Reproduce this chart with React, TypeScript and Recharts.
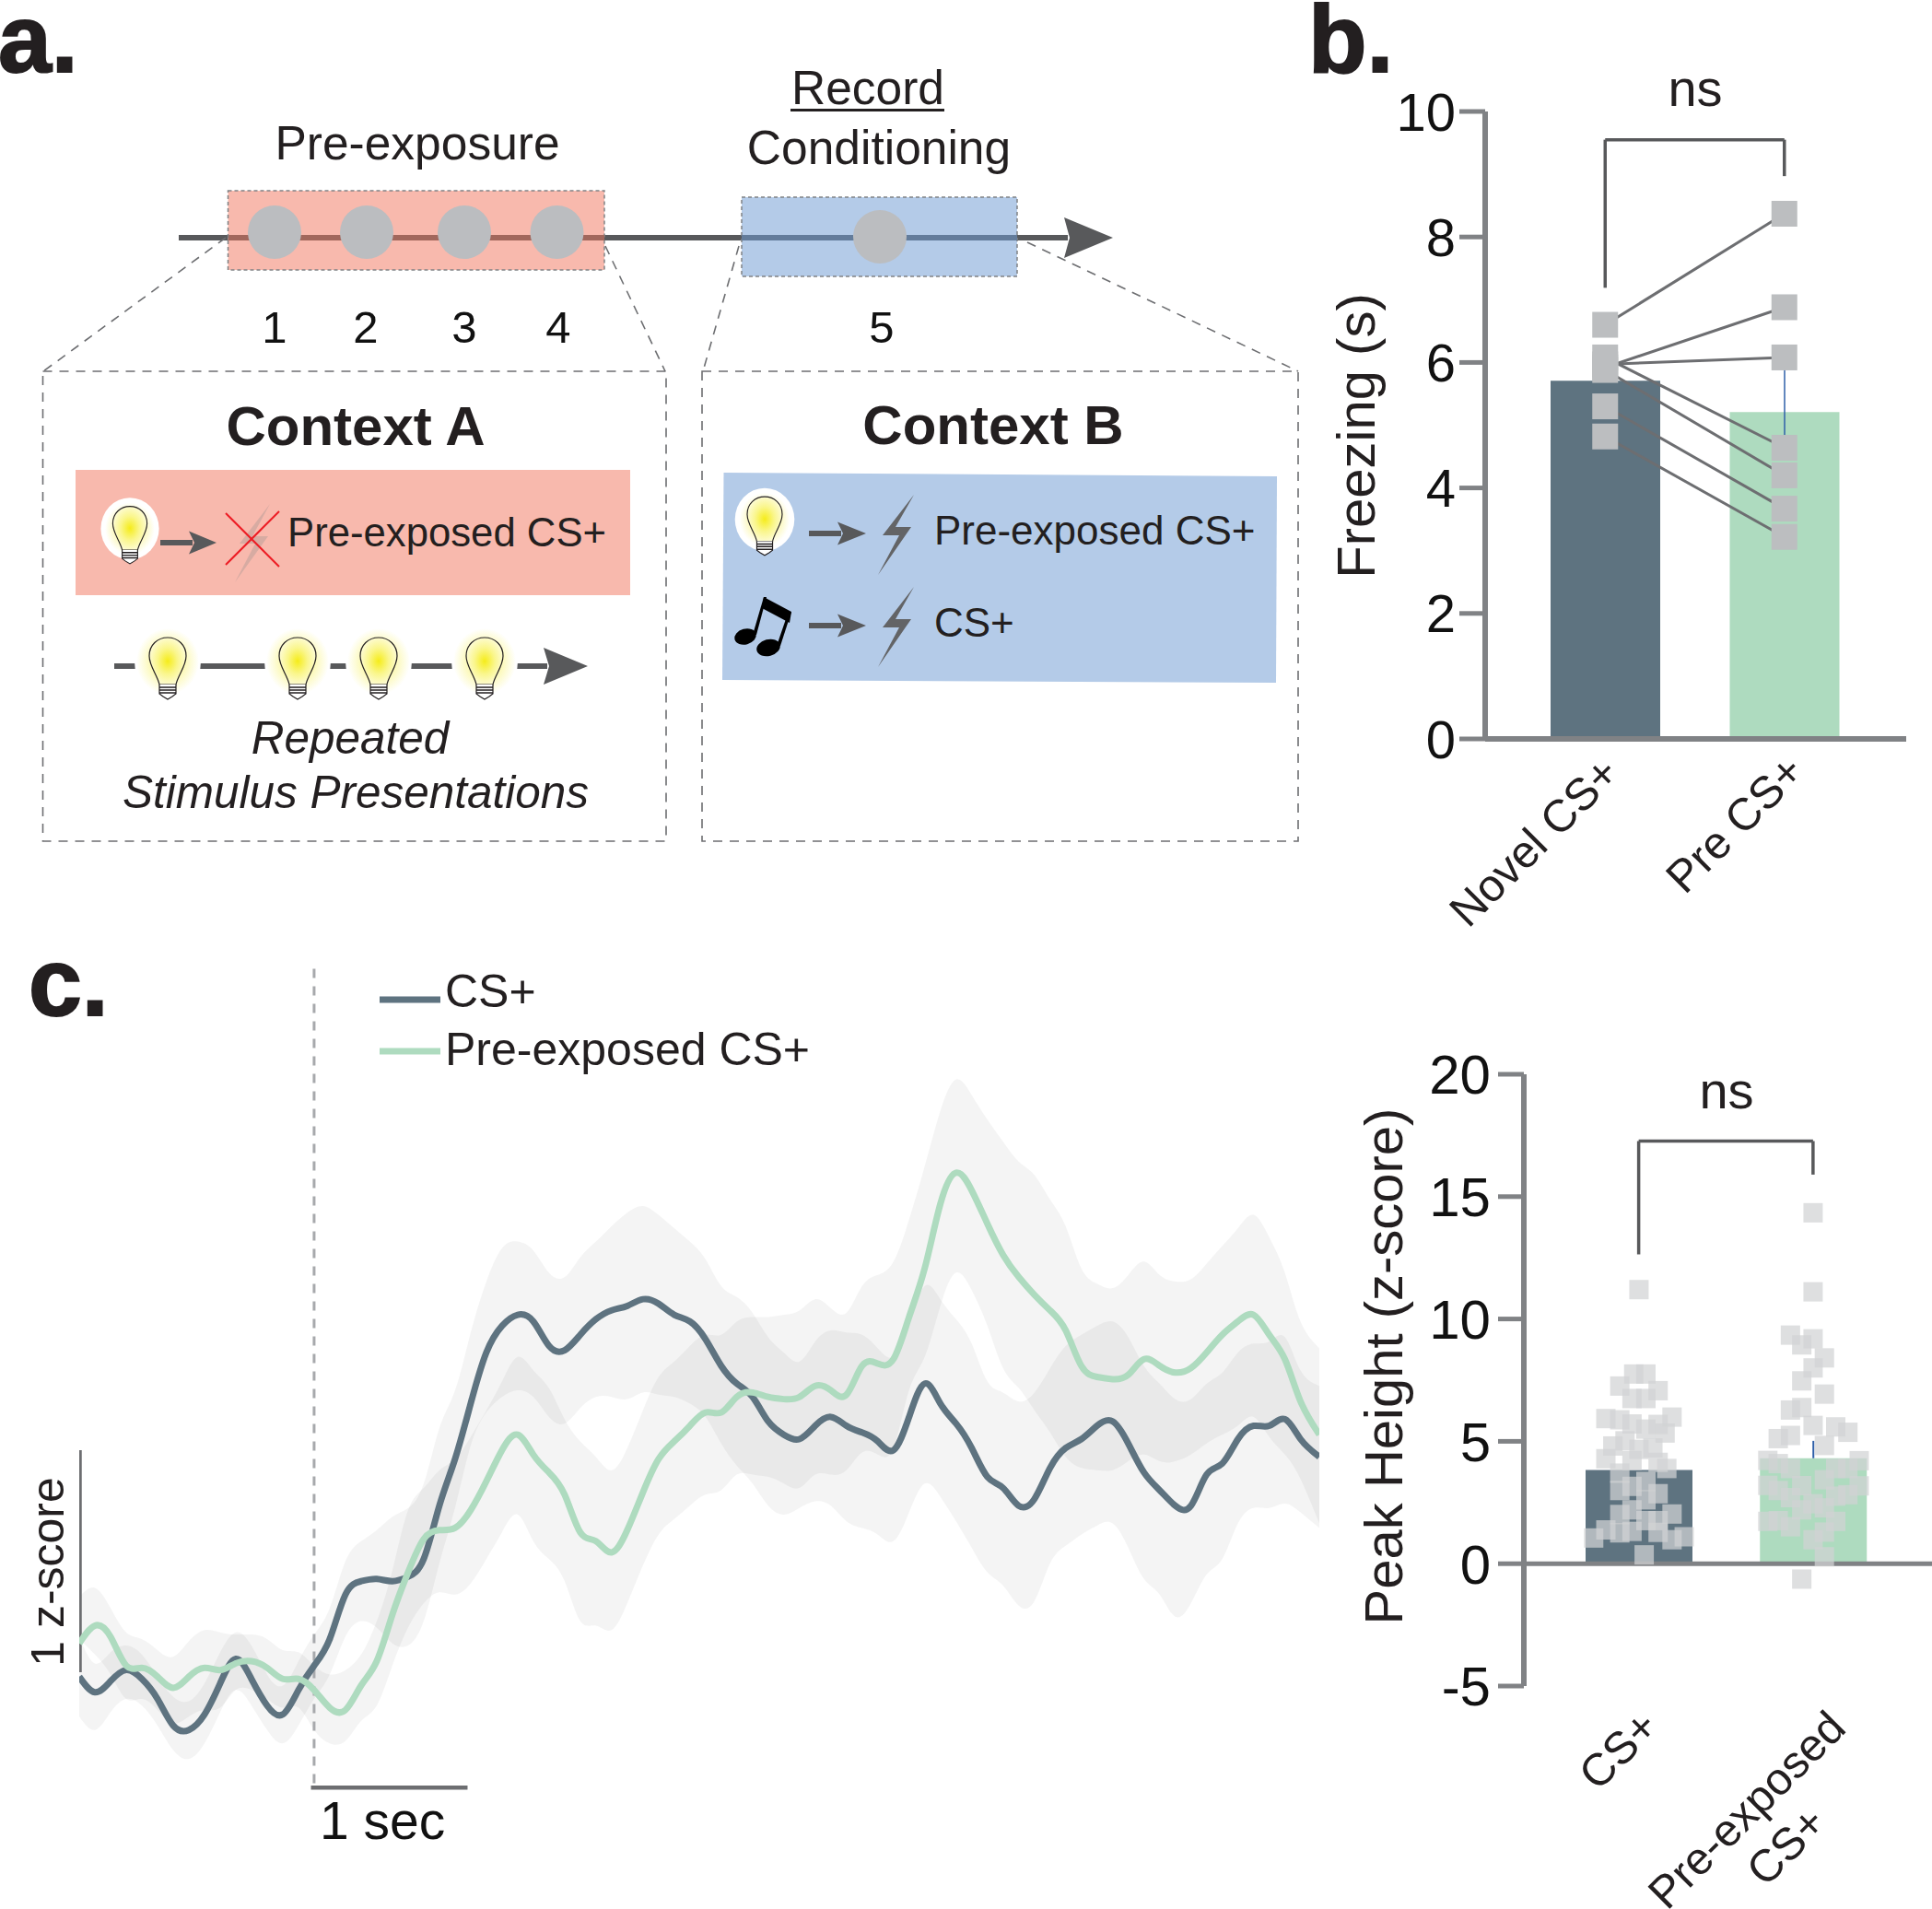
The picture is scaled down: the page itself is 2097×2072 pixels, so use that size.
import {
  Area,
  Bar,
  ComposedChart,
  ErrorBar,
  Line,
  ReferenceLine,
  Scatter,
  XAxis,
  YAxis,
  Cell,
} from "recharts";

const SLATE = "#5e7380";
const MINT = "#aedbbf";
const AXIS = "#808285";
const BRACKET = "#58595b";
const INK = "#231f20";
const SQUARE = "#bcbec0";
const PINK = "#f8b9ad";
const BLUE = "#b4cbe8";

// panel b
const freezeCats = ["Novel CS+", "Pre CS+"];
const freezeMeans = [5.71, 5.21];
const freezeErrors = [0, 0.67];
const freezeNovel = [6.6, 5.92, 5.97, 6.08, 5.88, 5.3, 4.82];
const freezePre = [8.37, 6.88, 6.08, 4.64, 4.2, 3.67, 3.22];
const freezeTicks = [0, 2, 4, 6, 8, 10];

// panel c, traces
const timeSec = [
  -1.5, -1.4, -1.3, -1.2, -1.1, -1.0, -0.9, -0.8, -0.7, -0.6, -0.5, -0.4, -0.3, -0.2, -0.1, 0,
  0.1, 0.2, 0.3, 0.4, 0.5, 0.6, 0.7, 0.8, 0.9, 1.0, 1.1, 1.2, 1.3, 1.4, 1.5, 1.6, 1.7, 1.8, 1.9,
  2.0, 2.1, 2.2, 2.3, 2.4, 2.5, 2.6, 2.7, 2.8, 2.9, 3.0, 3.1, 3.2, 3.3, 3.4, 3.5, 3.6, 3.7, 3.8,
  3.9, 4.0, 4.1, 4.2, 4.3, 4.4, 4.5, 4.6, 4.7, 4.8, 4.9, 5.0, 5.1, 5.2, 5.3, 5.4, 5.5, 5.6, 5.7,
  5.8, 5.9, 6.0, 6.1, 6.2, 6.3, 6.42,
];
const csMean = [
  0.03, -0.04, 0.01, 0.06, 0.02, -0.07, -0.19, -0.21, -0.14, 0, 0.11, 0.02, -0.1, -0.14, -0.03,
  0.08, 0.2, 0.4, 0.46, 0.47, 0.46, 0.48, 0.56, 0.8, 1.01, 1.26, 1.49, 1.61, 1.66, 1.63, 1.52,
  1.5, 1.57, 1.64, 1.68, 1.7, 1.73, 1.71, 1.66, 1.63, 1.55, 1.43, 1.35, 1.29, 1.18, 1.12, 1.1,
  1.16, 1.2, 1.16, 1.13, 1.09, 1.05, 1.2, 1.35, 1.26, 1.17, 1.06, 0.93, 0.88, 0.8, 0.83, 0.97,
  1.06, 1.1, 1.16, 1.18, 1.08, 0.95, 0.87, 0.8, 0.8, 0.94, 0.99, 1.1, 1.16, 1.16, 1.19, 1.1,
  1.02,
];
const csUpper = [
  0.21, 0.09, 0.14, 0.17, 0.13, 0.03, -0.06, -0.08, 0, 0.14, 0.23, 0.17, 0.04, -0.01, 0.1, 0.22,
  0.34, 0.55, 0.64, 0.69, 0.75, 0.79, 0.9, 1.15, 1.32, 1.58, 1.81, 1.96, 1.99, 1.95, 1.85, 1.83,
  1.92, 1.99, 2.06, 2.12, 2.15, 2.11, 2.05, 1.99, 1.91, 1.79, 1.74, 1.67, 1.56, 1.49, 1.45, 1.54,
  1.59, 1.58, 1.57, 1.51, 1.47, 1.61, 1.79, 1.73, 1.64, 1.53, 1.36, 1.31, 1.27, 1.31, 1.42, 1.52,
  1.57, 1.61, 1.63, 1.56, 1.43, 1.35, 1.28, 1.28, 1.35, 1.4, 1.49, 1.53, 1.54, 1.56, 1.41,
  1.34,
];
const csLower = [
  -0.15, -0.21, -0.13, -0.07, -0.1, -0.19, -0.3, -0.34, -0.27, -0.13, -0.03, -0.1, -0.21, -0.27,
  -0.19, -0.07, 0.04, 0.21, 0.28, 0.25, 0.18, 0.17, 0.28, 0.54, 0.79, 1.07, 1.22, 1.29, 1.32,
  1.29, 1.2, 1.17, 1.24, 1.29, 1.29, 1.28, 1.31, 1.3, 1.29, 1.26, 1.2, 1.08, 0.98, 0.9, 0.8, 0.76,
  0.79, 0.82, 0.8, 0.73, 0.7, 0.67, 0.64, 0.77, 0.9, 0.84, 0.73, 0.61, 0.5, 0.44, 0.35, 0.37,
  0.54, 0.62, 0.67, 0.71, 0.72, 0.61, 0.47, 0.4, 0.3, 0.36, 0.49, 0.56, 0.72, 0.79, 0.79, 0.81,
  0.77, 0.7,
];
const preMean = [
  0.18, 0.26, 0.21, 0.08, 0.07, 0.03, -0.02, 0.03, 0.07, 0.06, 0.09, 0.1, 0.07, 0.02, 0.02, -0.03,
  -0.11, -0.12, -0.01, 0.1, 0.31, 0.5, 0.65, 0.69, 0.7, 0.78, 0.91, 1.05, 1.12, 1.03, 0.95, 0.85,
  0.68, 0.64, 0.59, 0.69, 0.86, 1.01, 1.09, 1.16, 1.22, 1.22, 1.29, 1.31, 1.29, 1.28, 1.29, 1.34,
  1.32, 1.3, 1.43, 1.44, 1.46, 1.65, 1.87, 2.16, 2.3, 2.22, 2.07, 1.93, 1.83, 1.75, 1.68, 1.59,
  1.43, 1.38, 1.37, 1.39, 1.46, 1.43, 1.4, 1.42, 1.49, 1.57, 1.63, 1.66, 1.57, 1.46, 1.27,
  1.12,
];
const preUpper = [
  0.39, 0.43, 0.34, 0.23, 0.2, 0.15, 0.12, 0.19, 0.24, 0.23, 0.22, 0.22, 0.2, 0.15, 0.14, 0.08,
  0.04, 0.06, 0.13, 0.28, 0.51, 0.78, 0.88, 0.96, 1.01, 1.11, 1.23, 1.36, 1.47, 1.41, 1.33, 1.19,
  1.09, 1.02, 0.96, 1.06, 1.23, 1.38, 1.45, 1.52, 1.57, 1.57, 1.63, 1.65, 1.65, 1.66, 1.68, 1.73,
  1.69, 1.67, 1.79, 1.84, 1.9, 2.09, 2.33, 2.58, 2.72, 2.65, 2.54, 2.44, 2.35, 2.29, 2.18, 2.06,
  1.87, 1.8, 1.78, 1.84, 1.9, 1.84, 1.81, 1.82, 1.89, 1.97, 2.05, 2.11, 2.01, 1.85, 1.63,
  1.51,
];
const preLower = [
  0.2, 0.13, 0.04, -0.07, -0.07, -0.12, -0.18, -0.15, -0.12, -0.11, -0.03, -0.03, -0.07, -0.11,
  -0.11, -0.21, -0.27, -0.26, -0.17, -0.1, 0.08, 0.25, 0.36, 0.41, 0.4, 0.45, 0.56, 0.68, 0.76,
  0.64, 0.56, 0.46, 0.28, 0.26, 0.24, 0.36, 0.53, 0.67, 0.74, 0.8, 0.85, 0.87, 0.94, 0.94, 0.93,
  0.9, 0.88, 0.94, 0.94, 0.96, 1.04, 1.03, 1.06, 1.32, 1.47, 1.7, 1.85, 1.77, 1.61, 1.42, 1.33,
  1.23, 1.13, 1.02, 0.97, 0.96, 0.96, 1.0, 1.03, 1.0, 1.0, 1.03, 1.08, 1.12, 1.16, 1.2, 1.11, 1.03,
  0.92, 0.72,
];

// panel c, peak heights
const peakCats = ["CS+", "Pre-exposed CS+"];
const peakMeans = [3.83, 4.31];
const peakErrors = [[0, 0], [0, 0.71]];
const peakTicks = [-5, 0, 5, 10, 15, 20];
const csJitter = [
  0, -0.03, 0.04, -0.11, 0.11, -0.04, 0.04, -0.19, -0.11, 0.19, -0.04, 0.11, 0.04, 0.15, -0.08,
  -0.15, 0, 0.08, -0.19, -0.04, -0.11, 0.11, 0.16, -0.11, -0.04, 0.04, 0.11, 0.04, -0.04, -0.11,
  0.19, 0.04, 0.11, -0.19, -0.04, -0.11, 0.11, 0.19, 0.26, -0.26, 0.03,
];
const csPeaks = [
  11.2, 7.75, 7.75, 7.26, 7.07, 6.75, 6.75, 5.93, 5.88, 5.99, 5.71, 5.69, 5.5, 5.34, 5.02, 4.81,
  4.67, 4.73, 4.29, 4.21, 3.7, 4.14, 3.89, 2.99, 3.16, 3.36, 2.86, 2.61, 2.2, 2.01, 2.03, 1.76,
  1.76, 1.38, 1.32, 1.26, 1.28, 0.98, 1.1, 1.05, 0.36,
];
const preJitter = [
  0, 0, -0.13, -0.065, 0, 0.065, 0, -0.065, 0.065, -0.13, -0.065, 0, 0.13, 0.2, -0.13, -0.2, 0.065,
  -0.26, -0.2, 0.265, -0.13, 0.13, 0.2, -0.26, -0.2, -0.065, 0.065, 0.265, 0.13, 0.2, -0.13, 0,
  -0.065, 0.065, -0.26, -0.2, -0.13, 0.13, 0.065, 0, 0.065, -0.065,
];
const prePeaks = [
  14.34, 11.11, 9.34, 8.94, 9.19, 8.41, 8.0, 7.47, 6.93, 6.28, 6.38, 5.65, 5.59, 5.37, 5.24, 5.11,
  4.83, 4.22, 4.09, 4.21, 3.89, 3.89, 3.89, 3.2, 2.99, 3.19, 3.43, 3.18, 2.76, 2.82, 2.7, 2.45,
  2.2, 2.28, 1.73, 1.76, 1.51, 1.73, 1.29, 0.98, 0.28, -0.63,
];

const freezeRows = freezeCats.map((cat, i) => {
  const row: any = { cat, mean: freezeMeans[i], err: freezeErrors[i] };
  const subjects = i === 0 ? freezeNovel : freezePre;
  subjects.forEach((v, k) => {
    row["s" + k] = v;
  });
  return row;
});
const traceRows = timeSec.map((t, i) => ({
  t,
  cs: csMean[i],
  pre: preMean[i],
  csBand: [csLower[i], csUpper[i]],
  preBand: [preLower[i], preUpper[i]],
}));
const peakRows = peakCats.map((cat, i) => ({ cat, mean: peakMeans[i], err: peakErrors[i] }));
const peakPoints = [
  ...csPeaks.map((v, i) => ({ j: csJitter[i], v })),
  ...prePeaks.map((v, i) => ({ j: 1 + preJitter[i], v })),
];

const BigSquare = (props: any) =>
  props.cx == null ? null : (
    <rect key={props.index} x={props.cx - 14} y={props.cy - 14} width={28} height={28} fill={SQUARE} />
  );

const PeakSquare = (props: any) => (
  <rect x={props.cx - 10.5} y={props.cy - 10.5} width={21} height={21} fill="#d1d3d4" fillOpacity={0.72} />
);

const FreezeTick = ({ x, y, payload }: any) => {
  const shift = payload.value === freezeCats[0] ? [18, 32] : [24, 30];
  return (
    <text
      transform={`translate(${x + shift[0]},${y + shift[1]}) rotate(-45)`}
      textAnchor="end"
      fontSize={49}
      fill={INK}
    >
      {payload.value}
    </text>
  );
};

const PeakTick = ({ x, y, payload }: any) => {
  if (payload.value === "CS+") {
    return (
      <text transform={`translate(${x + 24},${y + 39}) rotate(-45)`} textAnchor="end" fontSize={49} fill={INK}>
        CS+
      </text>
    );
  }
  return (
    <g transform={`translate(${x + 38},${y + 40}) rotate(-45)`}>
      <text textAnchor="end" fontSize={49} fill={INK}>
        Pre-exposed
      </text>
      <text x={-88} y={58} textAnchor="end" fontSize={49} fill={INK}>
        CS+
      </text>
    </g>
  );
};

// s scales the drawn bulb; halo picks the glow behind it
function Bulb({ x, y, s = 1, halo }: { x: number; y: number; s?: number; halo: string }) {
  return (
    <g transform={`translate(${x},${y}) scale(${s})`}>
      {halo === "soft" && <ellipse cx={0} cy={3} rx={36} ry={40} fill="#fff" />}
      <ellipse cx={0} cy={3} rx={34} ry={36} fill={`url(#${halo === "soft" ? "softGlow" : "whiteGlow"})`} />
      <path
        d="M-9,28 C-11,18 -20,8 -20,-3 C-20,-15 -11,-23 0,-23 C11,-23 20,-15 20,-3 C20,8 11,18 9,28 Z"
        fill="url(#glass)"
        stroke="#231f20"
        strokeWidth={1.2}
      />
      <path d="M-9,28 L-9,38 L-5,41 L0,44 L5,41 L9,38 L9,28" fill="#fff" stroke="#231f20" strokeWidth={1.2} />
      <path d="M-9,31 H9 M-9,34 H9 M-9,37 H9" stroke="#231f20" strokeWidth={1.6} />
    </g>
  );
}

const Bolt = ({ dy = 0 }: { dy?: number }) => (
  <polygon
    transform={`translate(0,${dy})`}
    points="992,537 958,581 976,581 953,624 989,572 972,572"
    fill="#636466"
  />
);

const Arrow = ({ x1, x2, head, y, h = 12.5 }: { x1: number; x2: number; head: number; y: number; h?: number }) => (
  <g>
    <line x1={x1} x2={head + 4} y1={y} y2={y} stroke="#58595b" strokeWidth={6} />
    <polygon points={`${head},${y - h} ${x2},${y} ${head},${y + h} ${head + 6},${y}`} fill="#58595b" />
  </g>
);

function Schematic() {
  return (
    <svg width={2097} height={2072} style={{ position: "absolute", left: 0, top: 0 }} fontFamily="Liberation Sans">
      <defs>
        <radialGradient id="glass">
          <stop offset="0%" stopColor="#f5ec1a" />
          <stop offset="55%" stopColor="#faf68c" />
          <stop offset="100%" stopColor="#fdfbcf" />
        </radialGradient>
        <radialGradient id="softGlow">
          <stop offset="55%" stopColor="#fcf9b8" />
          <stop offset="100%" stopColor="#ffffff" />
        </radialGradient>
        <radialGradient id="whiteGlow">
          <stop offset="45%" stopColor="#fbf7b0" />
          <stop offset="85%" stopColor="#ffffff" />
          <stop offset="100%" stopColor="#ffffff" />
        </radialGradient>
      </defs>

      <text x={-2} y={78} fontSize={104} fontWeight={700} fill={INK} stroke={INK} strokeWidth={2}>a.</text>
      <text x={1420} y={78} fontSize={104} fontWeight={700} fill={INK} stroke={INK} strokeWidth={2}>b.</text>
      <text x={31} y={1102} fontSize={104} fontWeight={700} fill={INK} stroke={INK} strokeWidth={2}>c.</text>

      {/* timeline */}
      <Arrow x1={194} x2={1208} head={1155} y={258} h={22} />
      <rect x={247.5} y={207} width={408.5} height={86} fill={PINK} stroke="#808285" strokeWidth={1.5} strokeDasharray="4 3" />
      <rect x={805} y={214} width={299} height={86} fill={BLUE} stroke="#808285" strokeWidth={1.5} strokeDasharray="4 3" />
      <line x1={248} x2={656} y1={258} y2={258} stroke="#a2675c" strokeWidth={6} />
      <line x1={805} x2={1104} y1={258} y2={258} stroke="#637c9b" strokeWidth={6} />
      {[298, 398, 504, 604.5].map((cx) => (
        <circle key={cx} cx={cx} cy={252} r={29} fill="#bbbdc0" />
      ))}
      <circle cx={955} cy={257} r={29} fill="#bbbdc0" />
      <text x={453} y={173} textAnchor="middle" fontSize={51.5} fill={INK}>Pre-exposure</text>
      <text x={942} y={113} textAnchor="middle" fontSize={51.5} fill={INK}>Record</text>
      <line x1={858} x2={1025} y1={119.5} y2={119.5} stroke={INK} strokeWidth={3} />
      <text x={954} y={178} textAnchor="middle" fontSize={51.5} fill={INK}>Conditioning</text>
      {[["1", 298], ["2", 397], ["3", 504], ["4", 606], ["5", 957]].map(([t, x]) => (
        <text key={t} x={x} y={372} textAnchor="middle" fontSize={49} fill="#111">{t}</text>
      ))}

      {/* zoom guides and context boxes */}
      <g stroke="#6d6e71" strokeWidth={1.6} strokeDasharray="10 8" fill="none">
        <line x1={245} y1={258} x2={47} y2={403} />
        <line x1={657} y1={267} x2={722} y2={403} />
        <line x1={802} y1={267} x2={763} y2={403} />
        <line x1={1115} y1={263} x2={1409} y2={403} />
        <rect x={46.5} y={403} width={676.5} height={510} />
        <rect x={762} y={403} width={647} height={510} />
      </g>

      {/* context A */}
      <text x={386} y={483} textAnchor="middle" fontSize={60} fontWeight={700} fill={INK}>Context A</text>
      <rect x={82} y={510} width={602} height={136} fill={PINK} />
      <Bulb x={141} y={571} s={0.93} halo="white" />
      <Arrow x1={174} x2={235} head={205} y={589} />
      <polygon points="293,547 260,590 277,590 255,632 291,582 274,582" fill="#8a8a8a" fillOpacity={0.3} />
      <line x1={245} y1={557} x2={303} y2={615} stroke="#ed1c24" strokeWidth={2} />
      <line x1={303} y1={555} x2={245} y2={613} stroke="#ed1c24" strokeWidth={2} />
      <text x={312} y={593} fontSize={43.7} fill={INK}>Pre-exposed CS+</text>
      <Arrow x1={124} x2={638} head={590} y={723} h={20} />
      {[182, 323, 411, 526].map((x) => (
        <Bulb key={x} x={x} y={715} halo="soft" />
      ))}
      <text x={380} y={818} textAnchor="middle" fontSize={49.5} fontStyle="italic" fill={INK}>Repeated</text>
      <text x={386} y={877} textAnchor="middle" fontSize={49.5} fontStyle="italic" fill={INK}>Stimulus Presentations</text>

      {/* context B */}
      <text x={1078} y={482} textAnchor="middle" fontSize={60} fontWeight={700} fill={INK}>Context B</text>
      <polygon points="785.5,513 1386,517 1385,741 784,738" fill={BLUE} />
      <Bulb x={830} y={561} s={0.95} halo="white" />
      <Arrow x1={878} x2={940} head={909} y={579} />
      <Bolt />
      <text x={1014} y={591} fontSize={44} fill={INK}>Pre-exposed CS+</text>
      <g fill="#000">
        <ellipse cx={809} cy={691} rx={12} ry={8.5} transform="rotate(-15 809 691)" />
        <ellipse cx={834} cy={703} rx={13} ry={9} transform="rotate(-15 834 703)" />
        <polygon points="817,689 829,648 832,648 821,689" />
        <polygon points="843,701 855,666 859,664 847,701" />
        <polygon points="829,648 859,664 857,676 827,660" />
      </g>
      <Arrow x1={878} x2={940} head={909} y={679} />
      <Bolt dy={100} />
      <text x={1014} y={691} fontSize={44} fill={INK}>CS+</text>

      {/* chart text */}
      <text transform="translate(1492,473) rotate(-90)" textAnchor="middle" fontSize={58} fill={INK}>Freezing (s)</text>
      <text x={1840} y={115} textAnchor="middle" fontSize={56} fill={INK}>ns</text>
      <text transform="translate(1522,1483) rotate(-90)" textAnchor="middle" fontSize={58} fill={INK}>Peak Height (z-score)</text>
      <text x={1874} y={1203} textAnchor="middle" fontSize={56} fill={INK}>ns</text>
      <text transform="translate(69,1706) rotate(-90)" textAnchor="middle" fontSize={50} fill={INK}>1 z-score</text>
      <text x={347} y={1996} fontSize={57} fill="#111">1 sec</text>
      <line x1={412} x2={478} y1={1085} y2={1085} stroke={SLATE} strokeWidth={7} />
      <line x1={412} x2={478} y1={1141} y2={1141} stroke={MINT} strokeWidth={7} />
      <text x={483} y={1093} fontSize={50} fill={INK}>CS+</text>
      <text x={483} y={1156} fontSize={50} fill={INK}>Pre-exposed CS+</text>
    </svg>
  );
}

function FreezingChart() {
  return (
    <div style={{ position: "absolute", left: 1400, top: 60 }}>
      <ComposedChart
        width={697}
        height={1000}
        data={freezeRows}
        margin={{ top: 61, right: 28, bottom: 108, left: 112 }}
      >
        <XAxis
          dataKey="cat"
          height={150}
          padding={{ left: 33, right: 35 }}
          axisLine={{ stroke: AXIS, strokeWidth: 6 }}
          tickLine={false}
          tick={<FreezeTick />}
          interval={0}
        />
        <YAxis
          width={100}
          domain={[0, 10]}
          ticks={freezeTicks}
          tickSize={28}
          tickMargin={4}
          axisLine={{ stroke: AXIS, strokeWidth: 6 }}
          tickLine={{ stroke: AXIS, strokeWidth: 5 }}
          tick={{ fontSize: 58, fill: "#111" }}
        />
        <Bar dataKey="mean" barSize={119} isAnimationActive={false}>
          <Cell fill={SLATE} />
          <Cell fill={MINT} />
          <ErrorBar dataKey="err" width={0} stroke="#2e5fa8" strokeWidth={1.5} isAnimationActive={false} />
        </Bar>
        {freezeNovel.map((_, k) => (
          <Line key={k} dataKey={"s" + k} stroke="#6d6e71" strokeWidth={3} dot={false} activeDot={false} isAnimationActive={false} />
        ))}
        {freezeNovel.map((_, k) => (
          <Line key={"d" + k} dataKey={"s" + k} stroke="none" dot={BigSquare} activeDot={false} isAnimationActive={false} />
        ))}
        <ReferenceLine segment={[{ x: freezeCats[0], y: 7.19 }, { x: freezeCats[0], y: 9.55 }]} stroke={BRACKET} strokeWidth={3.5} />
        <ReferenceLine segment={[{ x: freezeCats[0], y: 9.55 }, { x: freezeCats[1], y: 9.55 }]} stroke={BRACKET} strokeWidth={3.5} />
        <ReferenceLine segment={[{ x: freezeCats[1], y: 9.55 }, { x: freezeCats[1], y: 8.97 }]} stroke={BRACKET} strokeWidth={3.5} />
      </ComposedChart>
    </div>
  );
}

function TraceChart() {
  return (
    <div style={{ position: "absolute", left: 86, top: 1040 }}>
      <ComposedChart width={1346} height={910} data={traceRows} margin={{ top: 0, right: 0, bottom: 0, left: 0 }}>
        <XAxis dataKey="t" type="number" domain={[-1.5, 6.42]} hide />
        <YAxis domain={[-0.51, 3.266]} hide />
        <Area dataKey="csBand" type="natural" fill="#000" fillOpacity={0.045} stroke="none" isAnimationActive={false} activeDot={false} dot={false} />
        <Area dataKey="preBand" type="natural" fill="#000" fillOpacity={0.045} stroke="none" isAnimationActive={false} activeDot={false} dot={false} />
        <ReferenceLine segment={[{ x: 0, y: -0.45 }, { x: 0, y: 3.22 }]} stroke="#a7a9ac" strokeWidth={3} strokeDasharray="10 9" />
        <ReferenceLine segment={[{ x: -1.5, y: 0.05 }, { x: -1.5, y: 1.05 }]} stroke="#6d6e71" strokeWidth={5.5} />
        <ReferenceLine segment={[{ x: -0.02, y: -0.47 }, { x: 0.98, y: -0.47 }]} stroke="#6d6e71" strokeWidth={4.5} />
        <Line dataKey="cs" type="natural" stroke={SLATE} strokeWidth={7} dot={false} activeDot={false} isAnimationActive={false} />
        <Line dataKey="pre" type="natural" stroke={MINT} strokeWidth={7} dot={false} activeDot={false} isAnimationActive={false} />
      </ComposedChart>
    </div>
  );
}

function PeakChart() {
  return (
    <div style={{ position: "absolute", left: 1420, top: 1100 }}>
      <ComposedChart
        width={677}
        height={972}
        data={peakRows}
        margin={{ top: 66, right: 0, bottom: 42, left: 134 }}
      >
        <XAxis
          xAxisId="cat"
          dataKey="cat"
          height={200}
          padding={{ left: 30, right: 34.5 }}
          axisLine={false}
          tickLine={false}
          tick={<PeakTick />}
          interval={0}
        />
        <XAxis xAxisId="num" dataKey="j" type="number" domain={[-0.661, 1.683]} hide />
        <YAxis
          width={100}
          domain={[-5, 20]}
          ticks={peakTicks}
          tickSize={28}
          tickMargin={8}
          axisLine={{ stroke: AXIS, strokeWidth: 6 }}
          tickLine={{ stroke: AXIS, strokeWidth: 5 }}
          tick={{ fontSize: 60, fill: "#111" }}
        />
        <Bar xAxisId="cat" dataKey="mean" barSize={116} isAnimationActive={false}>
          <Cell fill={SLATE} />
          <Cell fill={MINT} />
          <ErrorBar dataKey="err" width={0} stroke="#2e5fa8" strokeWidth={2} isAnimationActive={false} />
        </Bar>
        <ReferenceLine xAxisId="cat" y={0} stroke={AXIS} strokeWidth={5} />
        <ReferenceLine xAxisId="cat" segment={[{ x: peakCats[0], y: 12.64 }, { x: peakCats[0], y: 17.27 }]} stroke={BRACKET} strokeWidth={3.5} />
        <ReferenceLine xAxisId="cat" segment={[{ x: peakCats[0], y: 17.27 }, { x: peakCats[1], y: 17.27 }]} stroke={BRACKET} strokeWidth={3.5} />
        <ReferenceLine xAxisId="cat" segment={[{ x: peakCats[1], y: 17.27 }, { x: peakCats[1], y: 15.9 }]} stroke={BRACKET} strokeWidth={3.5} />
        <Scatter xAxisId="num" data={peakPoints} dataKey="v" shape={PeakSquare} isAnimationActive={false} />
      </ComposedChart>
    </div>
  );
}

export default function App() {
  return (
    <div
      style={{
        position: "absolute",
        left: 0,
        top: 0,
        width: 2097,
        height: 2072,
        background: "#fff",
        overflow: "hidden",
        fontFamily: "Liberation Sans",
      }}
    >
      <Schematic />
      <FreezingChart />
      <TraceChart />
      <PeakChart />
    </div>
  );
}
